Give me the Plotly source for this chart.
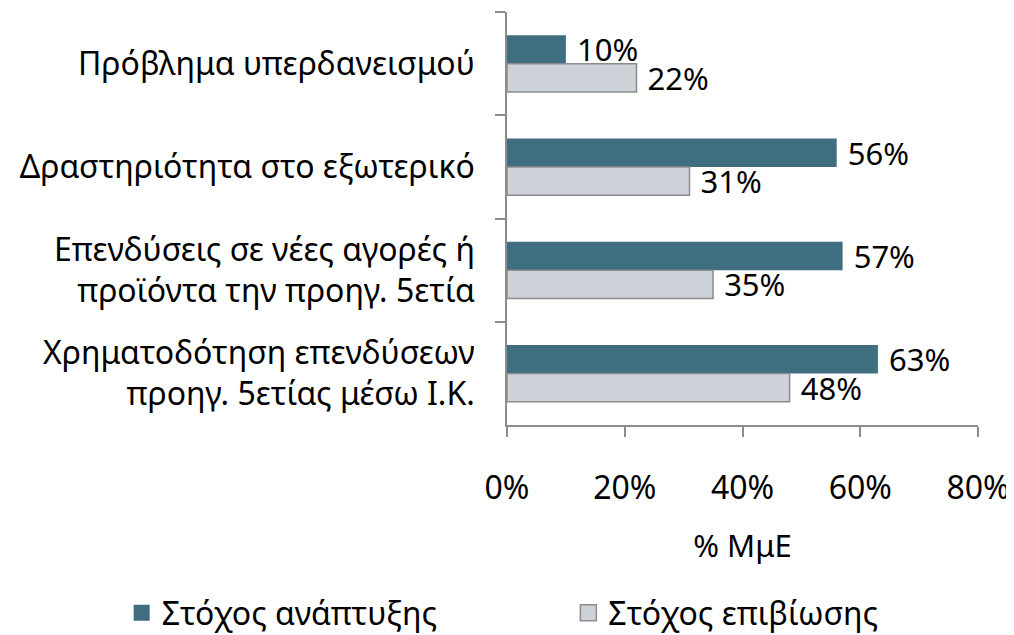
import plotly.graph_objects as go

categories = [
    "Πρόβλημα υπερδανεισμού",
    "Δραστηριότητα στο εξωτερικό",
    "Επενδύσεις σε νέες αγορές ή<br>προϊόντα την προηγ. 5ετία",
    "Χρηματοδότηση επενδύσεων<br>προηγ. 5ετίας μέσω Ι.Κ.",
]
growth = [10, 56, 57, 63]
survival = [22, 31, 35, 48]
series_names = ["Στόχος ανάπτυξης", "Στόχος επιβίωσης"]
x_ticks = [0, 20, 40, 60, 80]

FONT = "Noto Sans"
NB = "\u00a0"
TEAL, GREY, EDGE = "#3F6E80", "#CDD1D8", "#8C8C8C"
fig = go.Figure()
fig.add_trace(go.Bar(
    y=categories, x=growth, orientation="h", name=series_names[0], showlegend=False,
    marker=dict(color=TEAL, line=dict(width=0)),
    text=[f"{NB}{v}%" for v in growth], textposition="outside", constraintext="none",
    textfont=dict(size=31, color="#000000", family=FONT), cliponaxis=False,
))
fig.add_trace(go.Bar(
    y=categories, x=survival, orientation="h", name=series_names[1], showlegend=False,
    marker=dict(color=GREY, line=dict(width=1.5, color=EDGE)),
    text=[f"{NB}{v}%" for v in survival], textposition="outside", constraintext="none",
    textfont=dict(size=31, color="#000000", family=FONT), cliponaxis=False,
))
# legend entries (square swatches)
fig.add_trace(go.Scatter(x=[None], y=[None], mode="markers", name=series_names[0],
                         legend="legend",
                         marker=dict(symbol="square", size=16, color=TEAL, line=dict(width=0))))
fig.add_trace(go.Scatter(x=[None], y=[None], mode="markers", name=series_names[1],
                         legend="legend2",
                         marker=dict(symbol="square", size=16, color=GREY, line=dict(width=1.5, color=EDGE))))

leg = dict(orientation="h", xref="container", yref="container",
           xanchor="left", y=0.035, yanchor="middle",
           font=dict(size=32, family=FONT), itemsizing="trace",
           bgcolor="rgba(0,0,0,0)")
fig.update_layout(
    width=1006, height=627,
    margin=dict(l=499, r=36, t=4, b=210),
    paper_bgcolor="white", plot_bgcolor="white",
    font=dict(family=FONT, size=30, color="#000000"),
    barmode="group", bargap=0.45, bargroupgap=0.0,
    showlegend=True,
    legend=dict(leg, x=0.113),
    legend2=dict(leg, x=0.557),
    xaxis=dict(range=[0, 80], tickvals=x_ticks, ticktext=[f"{t}%" for t in x_ticks],
               showgrid=False, zeroline=False, showline=True, linecolor=EDGE,
               linewidth=1.5, ticks="outside", ticklen=10, tickcolor=EDGE,
               tickwidth=1.5, ticklabelstandoff=24, tickfont=dict(size=32),
               title=dict(text="% ΜμΕ", standoff=28, font=dict(size=31, family=FONT))),
    yaxis=dict(autorange="reversed", showgrid=False, showline=True, linecolor=EDGE,
               linewidth=1.5, ticks="outside", ticklen=10, tickcolor=EDGE,
               tickwidth=1.5, tickson="boundaries", ticklabelstandoff=24,
               tickfont=dict(size=32)),
)
fig.write_html("out.html")
